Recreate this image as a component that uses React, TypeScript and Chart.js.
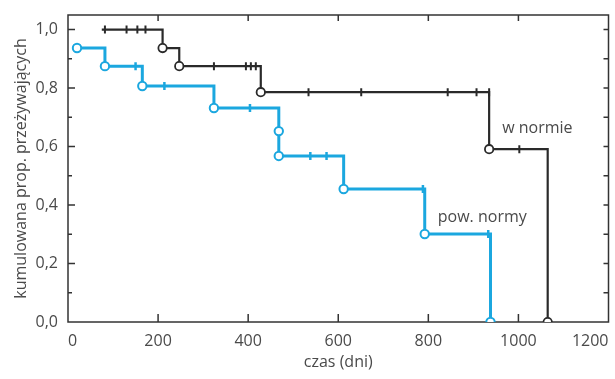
import React, { useEffect, useRef } from "react";
import { Chart, registerables } from "chart.js";

Chart.register(...registerables);

// Kaplan–Meier steps (time in days, cumulative survival)
const normTimes = [75, 210, 247, 428, 935, 1065];
const normValues = [1.0, 0.937, 0.875, 0.786, 0.591, 0.0];
const normEventTimes = [210, 247, 428, 935, 1065];
const normEventValues = [0.937, 0.875, 0.786, 0.591, 0.0];
const normCensorTimes = [82, 130, 154, 172, 324, 395, 406, 417, 534, 651, 843, 907, 935, 1002];
const normCensorValues = [1, 1, 1, 1, 0.875, 0.875, 0.875, 0.875, 0.786, 0.786, 0.786, 0.786, 0.786, 0.591];

const aboveTimes = [20, 82, 165, 324, 468, 612, 792, 938];
const aboveValues = [0.937, 0.875, 0.807, 0.732, 0.568, 0.455, 0.301, 0.0];
const aboveEventTimes = [20, 82, 165, 324, 468, 468, 612, 792, 938];
const aboveEventValues = [0.937, 0.875, 0.807, 0.732, 0.653, 0.568, 0.455, 0.301, 0.0];
const aboveCensorTimes = [150, 214, 404, 538, 574, 788, 933];
const aboveCensorValues = [0.875, 0.807, 0.732, 0.568, 0.568, 0.455, 0.301];

const xTickValues = [0, 200, 400, 600, 800, 1000, 1200];
const yTickValues = [0, 0.2, 0.4, 0.6, 0.8, 1.0];
const yMinorTicks = [0.1, 0.3, 0.5, 0.7, 0.9];

const labelNorm = { text: "w normie", x: 964, y: 0.663 };
const labelAbove = { text: "pow. normy", x: 821, y: 0.359 };

const BLACK = "#2a2a2a";
const BLUE = "#1ba7df";
const TEXT = "#4a4a4a";
const FONT = "'Open Sans', 'DejaVu Sans', sans-serif";

const pts = (xs: number[], ys: number[]) => xs.map((x, i) => ({ x, y: ys[i] }));

const framePlugin = {
  id: "frame",
  beforeDatasetsDraw(chart: any) {
    const { ctx, chartArea: a, scales } = chart;
    const xs = scales.x;
    const ys = scales.y;
    ctx.save();
    ctx.strokeStyle = "#333";
    ctx.lineWidth = 1.5;
    ctx.strokeRect(a.left, a.top, a.right - a.left, a.bottom - a.top);
    ctx.lineWidth = 1.5;
    ctx.beginPath();
    xTickValues.forEach((v) => {
      if (v === xs.min || v === xs.max) return;
      const px = xs.getPixelForValue(v);
      ctx.moveTo(px, a.bottom);
      ctx.lineTo(px, a.bottom - 8);
      ctx.moveTo(px, a.top);
      ctx.lineTo(px, a.top + 6);
    });
    yTickValues.forEach((v) => {
      if (v === 0) return;
      const py = ys.getPixelForValue(v);
      ctx.moveTo(a.left, py);
      ctx.lineTo(a.left + 7, py);
      ctx.moveTo(a.right, py);
      ctx.lineTo(a.right - 5, py);
    });
    yMinorTicks.forEach((v) => {
      const py = ys.getPixelForValue(v);
      ctx.moveTo(a.left, py);
      ctx.lineTo(a.left + 4, py);
      ctx.moveTo(a.right, py);
      ctx.lineTo(a.right - 5, py);
    });
    ctx.stroke();
    ctx.restore();
  },
  afterDatasetsDraw(chart: any) {
    const { ctx, scales } = chart;
    ctx.save();
    ctx.font = `16px ${FONT}`;
    ctx.fillStyle = TEXT;
    ctx.textAlign = "left";
    ctx.textBaseline = "middle";
    [labelNorm, labelAbove].forEach((l) => {
      ctx.fillText(l.text, scales.x.getPixelForValue(l.x), scales.y.getPixelForValue(l.y));
    });
    ctx.restore();
  },
};

export default function App() {
  const ref = useRef<HTMLCanvasElement>(null);
  useEffect(() => {
    if (!ref.current) return;
    const chart = new Chart(ref.current, {
      type: "line",
      data: {
        datasets: [
          {
            type: "scatter",
            data: pts(normEventTimes, normEventValues),
            pointStyle: "circle",
            pointRadius: 4.2,
            pointBackgroundColor: "#fff",
            pointBorderColor: BLACK,
            pointBorderWidth: 1.8,
            showLine: false,
          } as any,
          {
            type: "scatter",
            data: pts(aboveEventTimes, aboveEventValues),
            pointStyle: "circle",
            pointRadius: 4.2,
            pointBackgroundColor: "#fff",
            pointBorderColor: BLUE,
            pointBorderWidth: 2,
            showLine: false,
          } as any,
          {
            type: "scatter",
            data: pts(normCensorTimes, normCensorValues),
            pointStyle: "line",
            pointRotation: 90,
            pointRadius: 4,
            pointBorderColor: BLACK,
            pointBorderWidth: 2,
            showLine: false,
          } as any,
          {
            type: "scatter",
            data: pts(aboveCensorTimes, aboveCensorValues),
            pointStyle: "line",
            pointRotation: 90,
            pointRadius: 4,
            pointBorderColor: BLUE,
            pointBorderWidth: 2.5,
            showLine: false,
          } as any,
          {
            data: pts(normTimes, normValues),
            stepped: "before",
            borderColor: BLACK,
            borderWidth: 2.2,
            pointRadius: 0,
            fill: false,
          } as any,
          {
            data: pts(aboveTimes, aboveValues),
            stepped: "before",
            borderColor: BLUE,
            borderWidth: 3,
            pointRadius: 0,
            fill: false,
          } as any,
        ],
      },
      options: {
        responsive: false,
        animation: false,
        layout: { padding: { top: 15, right: 3, left: 0, bottom: 0 } },
        plugins: { legend: { display: false }, tooltip: { enabled: false } },
        scales: {
          x: {
            type: "linear",
            position: "bottom",
            min: 0,
            max: 1200,
            afterBuildTicks: (s: any) => {
              s.ticks = xTickValues.map((v) => ({ value: v }));
            },
            afterFit: (s: any) => {
              s.height = 57;
              s.paddingLeft = 0;
              s.paddingRight = 0;
            },
            grid: { display: false, drawTicks: false },
            border: { display: false },
            ticks: {
              align: "inner",
              padding: 10,
              color: TEXT,
              font: { family: FONT, size: 16 },
              maxRotation: 0,
              callback: (v: any) => String(v),
            },
            title: {
              display: true,
              text: "czas (dni)",
              color: TEXT,
              font: { family: FONT, size: 16 },
              padding: { top: 0, bottom: 7 },
            },
          },
          y: {
            type: "linear",
            min: 0,
            max: 1.05,
            afterBuildTicks: (s: any) => {
              s.ticks = yTickValues.map((v) => ({ value: v }));
            },
            afterFit: (s: any) => {
              s.width = 68;
              s.paddingTop = 0;
              s.paddingBottom = 0;
            },
            grid: { display: false, drawTicks: false },
            border: { display: false },
            ticks: {
              padding: 10,
              color: TEXT,
              font: { family: FONT, size: 16 },
              callback: (v: any) => Number(v).toFixed(1).replace(".", ","),
            },
            title: {
              display: true,
              text: "kumulowana prop. przeżywających",
              color: TEXT,
              font: { family: FONT, size: 16 },
              padding: { top: 12, bottom: 0 },
            },
          },
        },
      } as any,
      plugins: [framePlugin],
    });
    return () => chart.destroy();
  }, []);
  return (
    <div style={{ position: "absolute", left: 0, top: 0, width: 615, height: 379 }}>
      <canvas ref={ref} width={615} height={379} style={{ width: 615, height: 379 }} />
    </div>
  );
}
